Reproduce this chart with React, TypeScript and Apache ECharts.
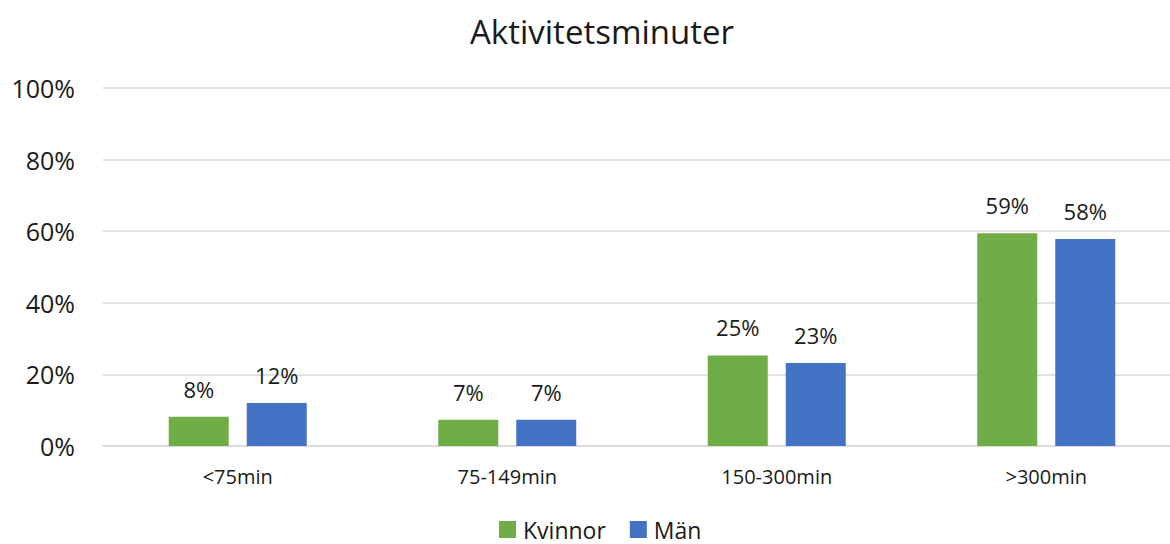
import React, { useEffect, useRef } from "react";
import * as echarts from "echarts";

const categories = ["<75min", "75-149min", "150-300min", ">300min"];
const kvinnor = [8.2, 7.3, 25.3, 59.4];
const man = [12.0, 7.3, 23.2, 57.8];
const kvinnorLabels = ["8%", "7%", "25%", "59%"];
const manLabels = ["12%", "7%", "23%", "58%"];
const yTicks = [0, 20, 40, 60, 80, 100];

const FONT = "'Open Sans', 'Liberation Sans', sans-serif";

export default function App() {
  const ref = useRef<HTMLDivElement>(null);
  useEffect(() => {
    if (!ref.current) return;
    const chart = echarts.init(ref.current, undefined, { renderer: "svg" });
    chart.setOption({
      animation: false,
      backgroundColor: "#ffffff",
      textStyle: { fontFamily: FONT },
      title: {
        text: "Aktivitetsminuter",
        left: 465,
        top: 10,
        textStyle: { fontFamily: FONT, fontSize: 33, fontWeight: "normal", color: "#1a1a1a" },
      },
      legend: {
        data: ["Kvinnor", "Män"],
        left: 499,
        top: 518,
        padding: 0,
        itemWidth: 17,
        itemHeight: 17,
        itemGap: 24,
        icon: "rect",
        textStyle: {
          fontFamily: FONT,
          fontSize: 23,
          lineHeight: 23,
          color: "#1a1a1a",
          padding: [0, 0, 0, 2],
        },
      },
      grid: { left: 103, right: 9, top: 88, height: 358, containLabel: false },
      xAxis: {
        type: "category",
        data: categories,
        axisLine: { show: true, lineStyle: { color: "#d9d9d9", width: 1.5 } },
        axisTick: { show: false },
        axisLabel: { fontFamily: FONT, fontSize: 20, color: "#1a1a1a", margin: 20 },
      },
      yAxis: {
        type: "value",
        min: yTicks[0],
        max: yTicks[yTicks.length - 1],
        interval: 20,
        axisLine: { show: false },
        axisTick: { show: false },
        splitLine: { lineStyle: { color: "#d9d9d9", width: 1.5 } },
        axisLabel: {
          fontFamily: FONT,
          fontSize: 25,
          color: "#1a1a1a",
          margin: 28,
          formatter: (v: number) => `${v}%`,
        },
      },
      series: [
        {
          name: "Kvinnor",
          type: "bar",
          data: kvinnor,
          barWidth: 60,
          barGap: "30%",
          itemStyle: { color: "#70AD47" },
          label: {
            show: true,
            position: "top",
            distance: 17,
            fontFamily: FONT,
            fontSize: 22,
            color: "#1a1a1a",
            formatter: (p: any) => kvinnorLabels[p.dataIndex],
          },
        },
        {
          name: "Män",
          type: "bar",
          data: man,
          barWidth: 60,
          barGap: "30%",
          itemStyle: { color: "#4472C4" },
          label: {
            show: true,
            position: "top",
            distance: 17,
            fontFamily: FONT,
            fontSize: 22,
            color: "#1a1a1a",
            formatter: (p: any) => manLabels[p.dataIndex],
          },
        },
      ],
    });
    return () => chart.dispose();
  }, []);
  return (
    <div
      style={{
        position: "absolute",
        left: 0,
        top: 0,
        width: 1170,
        height: 544,
        overflow: "hidden",
      }}
    >
      <div ref={ref} style={{ width: 1190, height: 544 }} />
    </div>
  );
}
